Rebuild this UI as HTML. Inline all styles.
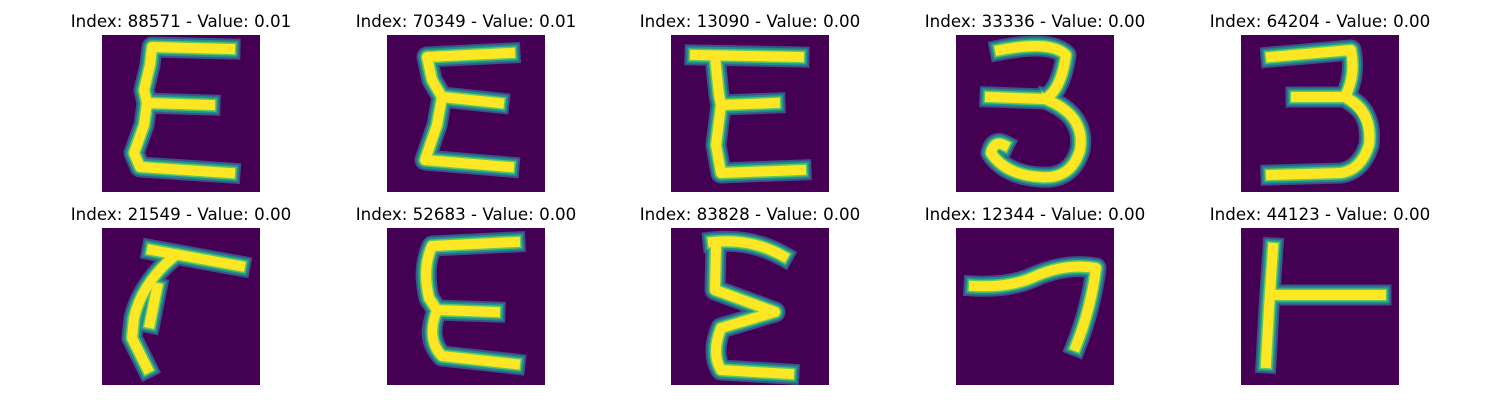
<!DOCTYPE html>
<html><head><meta charset="utf-8"><style>
body{margin:0;background:#fff;width:1500px;height:400px;overflow:hidden;font-family:"DejaVu Sans","Liberation Sans",sans-serif}
</style></head><body>
<svg id="fig" width="1500" height="400" xmlns="http://www.w3.org/2000/svg"></svg>
<script>
const indices=[88571,70349,13090,33336,64204,21549,52683,83828,12344,44123];
const values=[0.01,0.01,0.00,0.00,0.00,0.00,0.00,0.00,0.00,0.00];
const strokes=[
"M128,14 L50,12 L48,30 L42,55 L45,68 L108,70 M45,68 L42,90 L32,118 L38,132 L128,138",
"M123,18 L40,22 L45,45 L55,62 L112,68 M55,62 L50,90 L38,125 L122,132",
"M24,20 L128,22 M44,22 L48,60 L50,70 L104,68 M50,70 L45,110 L50,138 L130,135",
"M44,15 Q95,5 110,20 Q105,55 89,64 L34,62 M89,64 Q130,80 124,115 Q115,145 84,142 Q50,140 35,118 Q38,105 48,110",
"M30,22 L110,15 Q115,40 104,62 L55,62 M104,62 Q132,75 128,110 Q120,135 100,138 L30,140",
"M50,22 L138,38 M70,30 Q40,55 32,90 L30,110 L45,140 M55,60 L48,95",
"M128,14 L45,18 Q35,40 42,70 L50,82 L108,84 M50,82 Q38,110 55,128 L128,136",
"M42,14 Q80,10 112,28 M45,18 L44,62 L104,84 L50,100 Q40,125 50,142 L118,146",
"M18,58 Q55,60 80,48 Q110,35 140,40 Q135,80 120,118",
"M32,20 L28,80 L25,135 M35,67 L140,67"];
const NS="http://www.w3.org/2000/svg";
const fig=document.getElementById('fig');
const colX=[102,387,671,956,1241], rowY=[35,228];
const layers=[["#3b528b",21],["#21918c",17],["#5ec962",13],["#fde725",10]];
for(let i=0;i<indices.length;i++){
  const x=colX[i%5], y=rowY[Math.floor(i/5)];
  const g=document.createElementNS(NS,'g');
  
  
  const t=document.createElementNS(NS,'text');
  
  
  t.setAttribute('x',x+79);t.setAttribute('y',y-8);
  t.setAttribute('text-anchor','middle');t.setAttribute('font-size','16.7');
  t.textContent='Index: '+indices[i]+' - Value: '+values[i].toFixed(2);
  g.appendChild(t);
  const r=document.createElementNS(NS,'rect');
  
  
  r.setAttribute('x',x);r.setAttribute('y',y);r.setAttribute('width',158);r.setAttribute('height',157);
  r.setAttribute('fill','#440154');
  g.appendChild(r);
  for(const [c,w] of layers){
    const p=document.createElementNS(NS,'path');
    
    
    p.setAttribute('d',strokes[i]);
    p.setAttribute('transform','translate('+x+','+y+')');
    p.setAttribute('fill','none');p.setAttribute('stroke',c);p.setAttribute('stroke-width',w);
    p.setAttribute('stroke-linecap','square');p.setAttribute('stroke-linejoin','round');
    g.appendChild(p);
  }
  fig.appendChild(g);
}
</script>
</body></html>
